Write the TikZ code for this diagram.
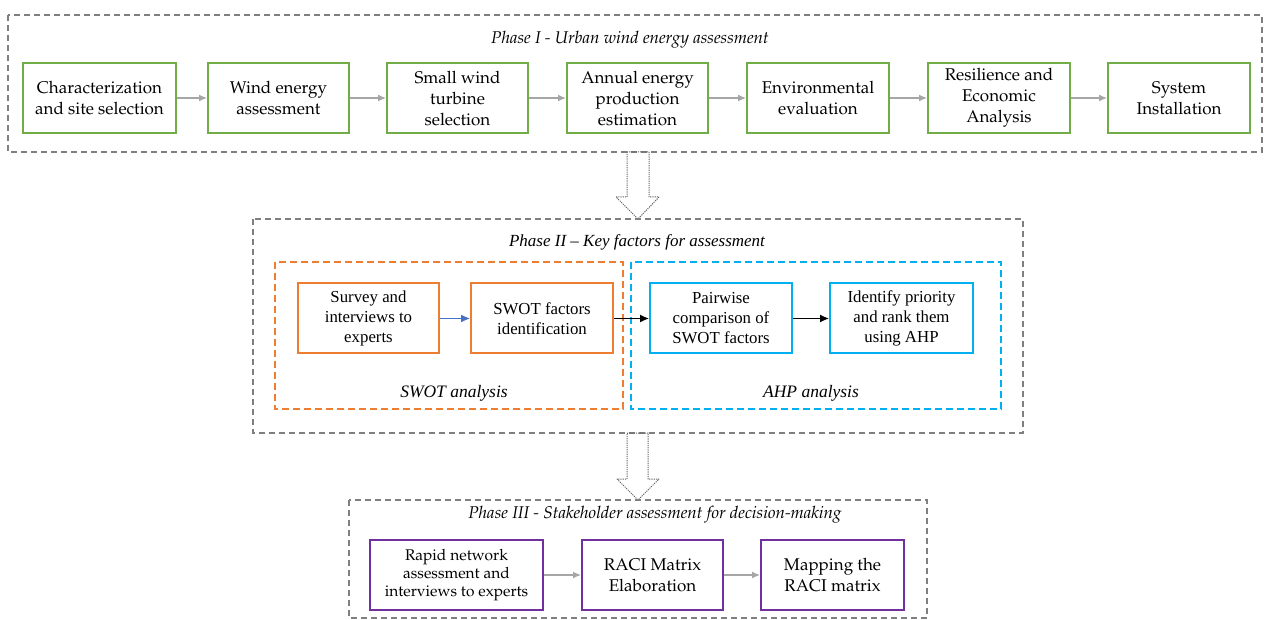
\documentclass[tikz,border=0pt]{standalone}
\usepackage{fontspec}
\setmainfont{Liberation Serif}
\usepackage{xcolor}
\usepackage{tikz}
\usetikzlibrary{arrows.meta}

% Palatino for phases I and III
\newcommand{\palfont}{\fontencoding{OT1}\fontfamily{ppl}\selectfont}

\definecolor{framegray}{HTML}{7F7F7F}
\definecolor{arrowgray}{HTML}{A6A6A6}
\definecolor{boxgreen}{HTML}{70AD47}
\definecolor{boxorange}{HTML}{ED7D31}
\definecolor{boxcyan}{HTML}{00B0F0}
\definecolor{boxpurple}{HTML}{7030A0}
\definecolor{linkblue}{HTML}{4472C4}

\tikzstyle{frame} = [draw=framegray,line width=1.5pt,dash pattern=on 6pt off 4pt]
\tikzstyle{subframe} = [line width=2pt,dash pattern=on 7pt off 4pt]
\tikzstyle{box} = [draw,line width=2pt,minimum height=70pt,align=center,inner sep=2pt]
\tikzstyle{greenbox} = [box,draw=boxgreen,font=\palfont\fontsize{17}{21}\selectfont]
\tikzstyle{orangebox} = [box,draw=boxorange,font=\fontsize{16.8}{20}\selectfont]
\tikzstyle{cyanbox} = [box,draw=boxcyan,font=\fontsize{16.8}{20}\selectfont]
\tikzstyle{purplebox} = [box,draw=boxpurple,font=\palfont\fontsize{17}{21}\selectfont]
\tikzstyle{phasetitle} = [font=\palfont\itshape\fontsize{17}{20}\selectfont]
\tikzstyle{grayarrow} = [draw=arrowgray,line width=1.3pt,-{Latex[length=8pt,width=7pt]}]
\tikzstyle{darkarrow} = [line width=1.3pt,-{Latex[length=9pt,width=8pt]}]
\tikzstyle{blockarrow} = [draw=black!60,line width=1pt,dash pattern=on 1.2pt off 1pt,line join=round]

\begin{document}
\begin{tikzpicture}[x=1pt,y=-1pt]
	\useasboundingbox (0,0) rectangle (1264,620);

	% Phase I: frame, title and the seven steps
	\draw [frame] (8,15) rectangle (1262,152);
	\node [phasetitle] (ph1title) at (630,40) {Phase I - Urban wind energy assessment};
	\foreach \name/\x/\w/\txt in {%
		s1/99.5/153/{Characterization\\and site selection},
		s2/278.5/141/{Wind energy\\assessment},
		s3/457.5/141/{Small wind\\turbine\\selection},
		s4/637.5/141/{Annual energy\\production\\estimation},
		s5/818/142/{Environmental\\evaluation},
		s6/999/142/{Resilience and\\Economic\\Analysis},
		s7/1179/142/{System\\Installation}}{%
		\node [greenbox,minimum width=\w pt] (\name) at (\x,98) {\txt};
	}
	\foreach \a/\b in {s1/s2,s2/s3,s3/s4,s4/s5,s5/s6,s6/s7}
		\draw [grayarrow] (\a) -- (\b);

	% Dotted block arrow down to phase II
	\draw [blockarrow] (627,152) -- (649,152) -- (649,197) -- (659,197) -- (638,219)
		-- (616,197) -- (627,197) -- cycle;

	% Phase II: SWOT and AHP
	\draw [frame] (253,219) rectangle (1023,433);
	\node [font=\itshape\fontsize{17}{20}\selectfont] (ph2title) at (637,242) {Phase II -- Key factors for assessment};
	\draw [subframe,draw=boxorange] (275,262) rectangle (623,409);
	\draw [subframe,draw=boxcyan] (631,262) rectangle (1001,409);
	\node [orangebox,minimum width=141pt] (sw1) at (368.5,318.5) {Survey and\\interviews to\\experts};
	\node [orangebox,minimum width=142pt] (sw2) at (542,318.5) {SWOT factors\\identification};
	\node [cyanbox,minimum width=142pt] (ah1) at (721,318.5) {Pairwise\\comparison of\\SWOT factors};
	\node [cyanbox,minimum width=143pt] (ah2) at (901.5,318.5) {Identify priority\\and rank them\\using AHP};
	\node [font=\itshape\fontsize{17.5}{20}\selectfont] (swotlabel) at (454,393) {SWOT analysis};
	\node [font=\itshape\fontsize{17.5}{20}\selectfont] (ahplabel) at (811,393) {AHP analysis};
	\draw [darkarrow,draw=linkblue,fill=linkblue] (sw1) -- (sw2);
	\draw [darkarrow] (sw2) -- (ah1);
	\draw [darkarrow] (ah1) -- (ah2);

	% Dotted block arrow down to phase III
	\draw [blockarrow] (627,433) -- (648,433) -- (648,479) -- (659,479) -- (638,500)
		-- (617,479) -- (627,479) -- cycle;

	% Phase III: stakeholders
	\draw [frame] (349,500) rectangle (927,618);
	\node [phasetitle] (ph3title) at (655,515) {Phase III - Stakeholder assessment for decision-making};
	\node [purplebox,minimum width=173pt,font=\palfont\fontsize{15.5}{18}\selectfont] (st1) at (456.5,575) {Rapid network\\assessment and\\interviews to experts};
	\node [purplebox,minimum width=141pt] (st2) at (652.5,575) {RACI Matrix\\Elaboration};
	\node [purplebox,minimum width=143pt] (st3) at (832.5,575) {Mapping the\\RACI matrix};
	\draw [grayarrow] (st1) -- (st2);
	\draw [grayarrow] (st2) -- (st3);
\end{tikzpicture}
\end{document}
